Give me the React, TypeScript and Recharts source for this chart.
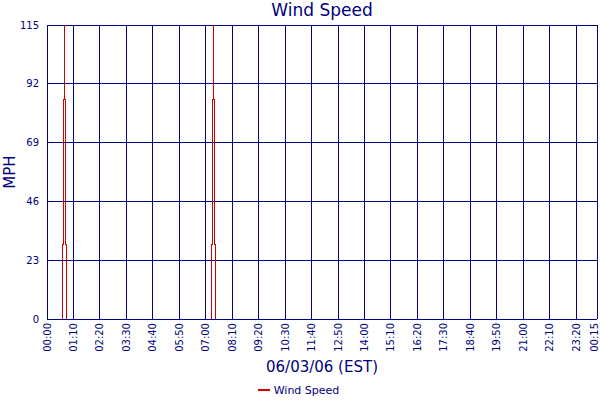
import React from 'react';
import { LineChart, Line, XAxis, YAxis, CartesianGrid, Legend, Label } from 'recharts';

// minutes since 00:00 on 06/03/06, and wind speed in MPH at that moment
const times = [0, 40.5, 43.1, 45.8, 45.8, 48.4, 52.1, 434.8, 437.4, 439.3, 439.3, 442.7, 446.4, 1455];
const speeds = [0, 29, 86, 140, 86, 29, 0, 29, 86, 140, 86, 29, 0, 0];

const xTicks = [0, 70, 140, 210, 280, 350, 420, 490, 560, 630, 700, 770, 840, 910, 980, 1050, 1120, 1190, 1260, 1330, 1400, 1455];
const yTicks = [0, 23, 46, 69, 92, 115];

const data = times.map((t, i) => ({ t, speed: speeds[i] }));

const NAVY = '#000080';
const RED = '#CC0000';

const fmtTime = (m: number) => {
  const h = Math.floor(m / 60) % 24;
  const mm = Math.round(m % 60);
  return `${String(h).padStart(2, '0')}:${String(mm).padStart(2, '0')}`;
};

const XTick = (props: any) => {
  const { y, payload } = props;
  // keep the last label inside the picture
  const x = Math.min(props.x, 594);
  return (
    <text x={x} y={y} transform={`rotate(-90, ${x}, ${y})`} textAnchor="end" dy="0.35em" fill={NAVY} fontSize={10}>
      {fmtTime(payload.value)}
    </text>
  );
};

const LegendContent = () => (
  <div style={{ height: 20, display: 'flex', justifyContent: 'center', alignItems: 'center', color: NAVY, fontSize: 11 }}>
    <span style={{ display: 'inline-block', width: 12, height: 2, background: RED, marginRight: 4 }} />
    Wind Speed
  </div>
);

export default function App() {
  return (
    <div style={{ position: 'fixed', left: 0, top: 0, width: 600, height: 400, background: '#fff', fontFamily: '"DejaVu Sans", sans-serif' }}>
      <div style={{ position: 'absolute', left: 0, top: 0, width: 644, textAlign: 'center', color: NAVY, fontSize: 17, lineHeight: '20px' }}>
        Wind Speed
      </div>
      <LineChart width={600} height={400} data={data} margin={{ top: 25, right: 3, bottom: 0, left: 0 }}>
        <CartesianGrid stroke={NAVY} strokeWidth={1} shapeRendering="crispEdges" />
        <XAxis
          dataKey="t"
          type="number"
          domain={[0, 1455]}
          ticks={xTicks}
          interval={0}
          tick={<XTick />}
          tickLine={false}
          tickSize={2}
          tickMargin={2}
          axisLine={{ stroke: NAVY, shapeRendering: 'crispEdges' }}
          height={61}
        >
          <Label
            content={(p: any) => {
              const vb = p.viewBox;
              return (
                <text x={vb.x + vb.width / 2} y={vb.y + 53} textAnchor="middle" fill={NAVY} fontSize={15}>
                  06/03/06 (EST)
                </text>
              );
            }}
          />
        </XAxis>
        <YAxis
          type="number"
          domain={[0, 115]}
          ticks={yTicks}
          allowDataOverflow
          width={47}
          tickLine={false}
          axisLine={{ stroke: NAVY, shapeRendering: 'crispEdges' }}
          tick={{ fill: NAVY, fontSize: 10 }}
        >
          <Label
            content={(p: any) => {
              const vb = p.viewBox;
              const cx = vb.x + 15;
              const cy = vb.y + vb.height / 2;
              return (
                <text x={cx} y={cy} transform={`rotate(-90, ${cx}, ${cy})`} textAnchor="middle" fill={NAVY} fontSize={15}>
                  MPH
                </text>
              );
            }}
          />
        </YAxis>
        <Legend verticalAlign="bottom" content={<LegendContent />} />
        <Line
          type="stepAfter"
          dataKey="speed"
          name="Wind Speed"
          stroke={RED}
          strokeWidth={1}
          shapeRendering="crispEdges"
          dot={false}
          isAnimationActive={false}
        />
      </LineChart>
    </div>
  );
}
